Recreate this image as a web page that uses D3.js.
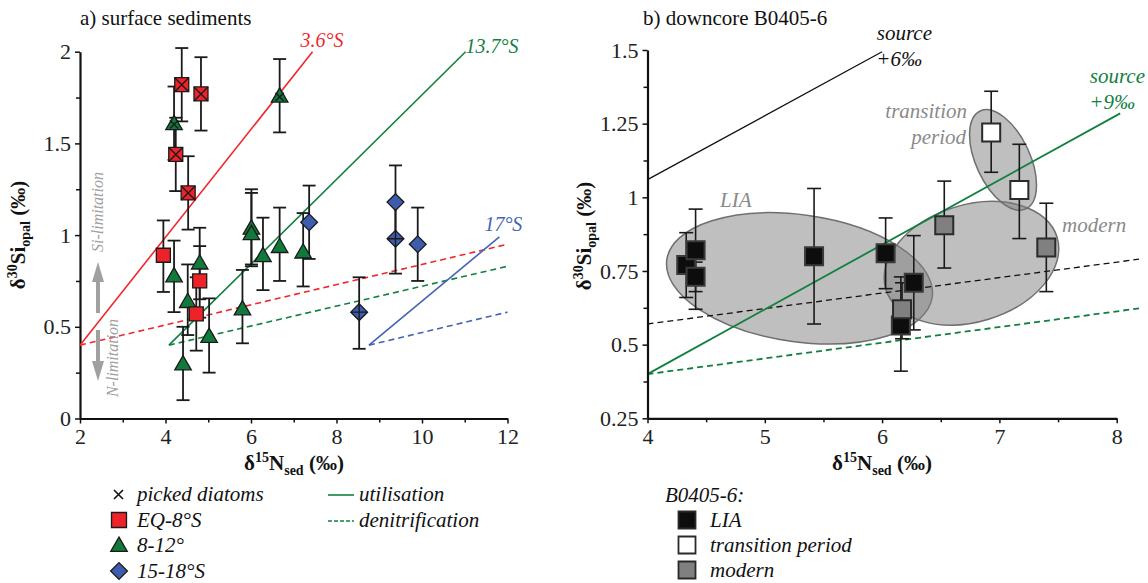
<html>
<head>
<title>d30Si vs d15N</title>
<script src="https://d3js.org/d3.v7.min.js"></script>
<style>
  body { margin: 0; background: #fff; }
  svg, svg text { font-family: "Liberation Serif", "Times New Roman", Tinos, "DejaVu Serif", serif !important; }
</style>
</head>
<body>
<script>
// ---- panel a) surface sediments ----
var eqSites = [
  {x: 4.38, y: 1.82, lo: 1.62, hi: 2.02, picked: true},
  {x: 4.83, y: 1.77, lo: 1.57, hi: 1.97, picked: true},
  {x: 4.24, y: 1.44, lo: 1.24, hi: 1.64, picked: true},
  {x: 4.53, y: 1.23, lo: 1.03, hi: 1.43, picked: true},
  {x: 3.95, y: 0.89, lo: 0.69, hi: 1.08, picked: false},
  {x: 4.80, y: 0.75, lo: 0.55, hi: 0.94, picked: false},
  {x: 4.72, y: 0.57, lo: 0.37, hi: 0.77, picked: false}
];
var midSites = [
  {x: 4.20, y: 1.61, lo: 1.41, hi: 1.81, picked: true},
  {x: 6.67, y: 1.76, lo: 1.56, hi: 1.96, picked: true},
  {x: 6.01, y: 1.04, lo: 0.84, hi: 1.25, picked: false},
  {x: 6.01, y: 1.01, lo: 0.83, hi: 1.23, picked: false},
  {x: 4.20, y: 0.78, lo: 0.58, hi: 0.97, picked: false},
  {x: 4.80, y: 0.85, lo: 0.65, hi: 1.04, picked: false},
  {x: 4.52, y: 0.64, lo: 0.455, hi: 0.84, picked: false},
  {x: 4.41, y: 0.30, lo: 0.10, hi: 0.50, picked: false},
  {x: 5.02, y: 0.45, lo: 0.25, hi: 0.655, picked: false},
  {x: 5.80, y: 0.60, lo: 0.41, hi: 0.81, picked: false},
  {x: 6.28, y: 0.89, lo: 0.70, hi: 1.095, picked: false},
  {x: 6.67, y: 0.94, lo: 0.75, hi: 1.15, picked: false},
  {x: 7.22, y: 0.91, lo: 0.72, hi: 1.12, picked: false}
];
var southSites = [
  {x: 7.36, y: 1.07, lo: 0.87, hi: 1.27, picked: false},
  {x: 9.38, y: 1.18, lo: 0.98, hi: 1.38, picked: false},
  {x: 9.38, y: 0.98, lo: 0.79, hi: 1.18, picked: true},
  {x: 9.90, y: 0.95, lo: 0.75, hi: 1.15, picked: false},
  {x: 8.53, y: 0.58, lo: 0.38, hi: 0.77, picked: true}
];
// model lines [x, y] endpoints
var modelLinesA = [
  {name: "3.6°S",  color: "#f0282d", dash: false, pts: [[2, 0.40], [7.44, 2.0]]},
  {name: "",       color: "#f0282d", dash: true,  pts: [[2, 0.40], [12, 0.95]]},
  {name: "13.7°S", color: "#118040", dash: false, pts: [[4.08, 0.40], [11.02, 2.0]]},
  {name: "",       color: "#118040", dash: true,  pts: [[4.08, 0.40], [12, 0.83]]},
  {name: "17°S",   color: "#4463b5", dash: false, pts: [[8.76, 0.40], [11.81, 0.99]]},
  {name: "",       color: "#4463b5", dash: true,  pts: [[8.76, 0.40], [12, 0.58]]}
];
var xTicksA = [2, 4, 6, 8, 10, 12];
var xMinorA = [3, 5, 7, 9, 11];
var yTicksA = [0, 0.5, 1, 1.5, 2];
var yMinorA = [0.25, 0.75, 1.25, 1.75];

// ---- panel b) downcore B0405-6 ----
var liaCore = [
  {x: 4.33, y: 0.77, lo: 0.66, hi: 0.88},
  {x: 4.41, y: 0.82, lo: 0.62, hi: 0.96},
  {x: 4.41, y: 0.73, lo: 0.68, hi: 0.78},
  {x: 5.42, y: 0.80, lo: 0.57, hi: 1.03},
  {x: 6.03, y: 0.81, lo: 0.69, hi: 0.93},
  {x: 6.27, y: 0.71, lo: 0.55, hi: 0.87},
  {x: 6.16, y: 0.565, lo: 0.41, hi: 0.73}
];
var transCore = [
  {x: 6.93, y: 1.22, lo: 1.085, hi: 1.36},
  {x: 7.17, y: 1.025, lo: 0.86, hi: 1.18}
];
var modernCore = [
  {x: 6.53, y: 0.905, lo: 0.76, hi: 1.055},
  {x: 7.40, y: 0.83, lo: 0.68, hi: 0.98},
  {x: 6.17, y: 0.62, lo: 0.52, hi: 0.71}
];
var modelLinesB = [
  {color: "#111", dash: false, pts: [[4, 1.06], [6.0, 1.494]]},
  {color: "#111", dash: true,  pts: [[4, 0.57], [8.19, 0.79]]},
  {color: "#118040", dash: false, pts: [[4, 0.40], [8.03, 1.285]]},
  {color: "#118040", dash: true,  pts: [[4, 0.40], [8.19, 0.623]]}
];
// group ellipses: centre in data units
var groupsB = [
  {name: "LIA", cx: 5.296, cy: 0.725, rx: 134, ry: 63.5, rot: 8},
  {name: "modern", cx: 6.762, cy: 0.776, rx: 89.5, ry: 58.5, rot: -17},
  {name: "transition", cx: 7.031, cy: 1.127, rx: 54, ry: 27, rot: 65}
];
var xTicksB = [4, 5, 6, 7, 8];
var xMinorB = [4.5, 5.5, 6.5, 7.5];
var yTicksB = [0.25, 0.5, 0.75, 1, 1.25, 1.5];
var yMinorB = [0.375, 0.625, 0.875, 1.125, 1.375];

var FONT = "'Liberation Serif', 'Times New Roman', Tinos, 'DejaVu Serif', serif";

var svg = d3.select("body").append("svg")
  .attr("width", 1148).attr("height", 583)
  .attr("font-family", FONT);

var xA = d3.scaleLinear().domain([2, 12]).range([80, 507.5]);
var yA = d3.scaleLinear().domain([0, 2]).range([418.5, 51.7]);
var xB = d3.scaleLinear().domain([4, 8]).range([647.5, 1116.7]);
var yB = d3.scaleLinear().domain([0.25, 1.5]).range([418.3, 50]);

function drawAxes(x, y, xMaj, xMin, yMaj, yMin) {
  var y0 = y.range()[0], x0 = x.range()[0];
  var g = svg.append("g");
  var gx = g.append("g").attr("transform", "translate(0," + y0 + ")")
    .call(d3.axisBottom(x).tickValues(xMaj).tickSize(5).tickSizeOuter(0).tickPadding(5).tickFormat(String));
  gx.append("g").call(d3.axisBottom(x).tickValues(xMin).tickSize(4).tickFormat(""))
    .select(".domain").remove();
  var gy = g.append("g").attr("transform", "translate(" + x0 + ",0)")
    .call(d3.axisLeft(y).tickValues(yMaj).tickSize(5).tickSizeOuter(0).tickPadding(4).tickFormat(String));
  gy.append("g").call(d3.axisLeft(y).tickValues(yMin).tickSize(4).tickFormat(""))
    .select(".domain").remove();
  g.selectAll("g").attr("font-family", FONT);
  g.selectAll(".domain").attr("stroke", "#111").attr("stroke-width", 2.2);
  g.selectAll(".tick line").attr("stroke", "#111").attr("stroke-width", 1.5);
  g.selectAll(".tick text").attr("font-size", 22).attr("fill", "#222");
}

function yLabel(cx, cy) {
  var t = svg.append("text").attr("transform", "translate(" + cx + "," + cy + ") rotate(-90)")
    .attr("text-anchor", "middle").attr("font-weight", "bold").attr("font-size", 21).attr("fill", "#111");
  t.append("tspan").text("δ");
  t.append("tspan").attr("font-size", 14).attr("dy", -8).text("30");
  t.append("tspan").attr("dy", 8).text("Si");
  t.append("tspan").attr("font-size", 14).attr("dy", 5).text("opal");
  t.append("tspan").attr("dy", -5).text(" (‰)");
}
function xLabel(cx, cy) {
  var t = svg.append("text").attr("x", cx).attr("y", cy)
    .attr("text-anchor", "middle").attr("font-weight", "bold").attr("font-size", 21).attr("fill", "#111");
  t.append("tspan").text("δ");
  t.append("tspan").attr("font-size", 14).attr("dy", -8).text("15");
  t.append("tspan").attr("dy", 8).text("N");
  t.append("tspan").attr("font-size", 14).attr("dy", 5).text("sed");
  t.append("tspan").attr("dy", -5).text(" (‰)");
}

function errorBars(g, data, x, y, cap, sw) {
  var e = g.selectAll(null).data(data).enter().append("g")
    .attr("stroke", "#1a1a1a").attr("stroke-width", sw);
  e.append("line").attr("x1", function(d){ return x(d.x); }).attr("x2", function(d){ return x(d.x); })
    .attr("y1", function(d){ return y(d.lo); }).attr("y2", function(d){ return y(d.hi); });
  e.append("line").attr("x1", function(d){ return x(d.x) - cap; }).attr("x2", function(d){ return x(d.x) + cap; })
    .attr("y1", function(d){ return y(d.lo); }).attr("y2", function(d){ return y(d.lo); });
  e.append("line").attr("x1", function(d){ return x(d.x) - cap; }).attr("x2", function(d){ return x(d.x) + cap; })
    .attr("y1", function(d){ return y(d.hi); }).attr("y2", function(d){ return y(d.hi); });
}

// marker shapes around (0,0)
var shapes = {
  square: function(s){ return "M" + (-s) + "," + (-s) + "H" + s + "V" + s + "H" + (-s) + "Z"; },
  triangle: function(s){ return "M0," + (-s * 1.05) + "L" + (s * 1.1) + "," + (s * 0.85) + "H" + (-s * 1.1) + "Z"; },
  diamond: function(s){ return "M0," + (-s * 1.2) + "L" + (s * 1.2) + ",0L0," + (s * 1.2) + "L" + (-s * 1.2) + ",0Z"; }
};

function markers(g, data, x, y, shape, size, fill, stroke, sw) {
  var m = g.selectAll(null).data(data).enter().append("g")
    .attr("transform", function(d){ return "translate(" + x(d.x) + "," + y(d.y) + ")"; });
  m.append("path").attr("d", shapes[shape](size)).attr("fill", fill)
    .attr("stroke", stroke).attr("stroke-width", sw);
  m.filter(function(d){ return d.picked; }).each(function(){
    var k = shape === "diamond" ? size * 1.1 : (shape === "triangle" ? size * 0.55 : size);
    var dy = shape === "triangle" ? size * 0.15 : 0;
    var p = shape === "diamond"
      ? "M0," + (-k) + "V" + k + "M" + (-k) + ",0H" + k
      : "M" + (-k) + "," + (dy - k) + "L" + k + "," + (dy + k) + "M" + k + "," + (dy - k) + "L" + (-k) + "," + (dy + k);
    d3.select(this).append("path").attr("d", p).attr("stroke", "#1a1a1a").attr("stroke-width", 1.4).attr("fill", "none");
  });
}

var line = function(x, y) { return d3.line().x(function(p){ return x(p[0]); }).y(function(p){ return y(p[1]); }); };

// ================= panel a =================
svg.append("text").attr("x", 80).attr("y", 25).attr("font-size", 21).attr("fill", "#111")
  .text("a) surface sediments");
drawAxes(xA, yA, xTicksA, xMinorA, yTicksA, yMinorA);
yLabel(25, 235);
xLabel(294, 470);

var gA = svg.append("g");
gA.selectAll(null).data(modelLinesA).enter().append("path")
  .attr("d", function(d){ return line(xA, yA)(d.pts); })
  .attr("fill", "none").attr("stroke", function(d){ return d.color; }).attr("stroke-width", 1.6)
  .attr("stroke-dasharray", function(d){ return d.dash ? "6,4" : null; });
gA.selectAll(null).data(modelLinesA.filter(function(d){ return d.name; })).enter().append("text")
  .attr("x", function(d){ return xA(d.pts[1][0]) + (d.name === "17°S" ? -15 : 0); })
  .attr("y", function(d){ return yA(d.pts[1][1]) - (d.name === "17°S" ? 6 : -1); })
  .attr("font-size", 20).attr("font-style", "italic").attr("fill", function(d){ return d.color; })
  .attr("dx", function(d){ return d.name === "3.6°S" ? -12 : 0; })
  .attr("dy", function(d){ return d.name === "3.6°S" ? -6 : 0; })
  .text(function(d){ return d.name; });

// limitation arrows
var gray = "#a0a0a0";
gA.append("path").attr("d", "M98,313V278").attr("stroke", gray).attr("stroke-width", 4);
gA.append("path").attr("d", "M98,262L104,282H92Z").attr("fill", gray);
gA.append("path").attr("d", "M98,330V365").attr("stroke", gray).attr("stroke-width", 4);
gA.append("path").attr("d", "M98,381L104,361H92Z").attr("fill", gray);
gA.append("text").attr("transform", "translate(103,212) rotate(-90)").attr("text-anchor", "middle")
  .attr("font-size", 16).attr("font-style", "italic").attr("fill", gray).text("Si-limitation");
gA.append("text").attr("transform", "translate(118,358) rotate(-90)").attr("text-anchor", "middle")
  .attr("font-size", 16).attr("font-style", "italic").attr("fill", gray).text("N-limitation");

errorBars(gA, eqSites.concat(midSites, southSites), xA, yA, 6.5, 1.8);
markers(gA, midSites, xA, yA, "triangle", 7.5, "#0f7a3c", "#1a1a1a", 1.3);
markers(gA, eqSites, xA, yA, "square", 7, "#ee2229", "#1a1a1a", 1.3);
markers(gA, southSites, xA, yA, "diamond", 7, "#3e5cad", "#1a1a1a", 1.3);

// legend a
var legA = svg.append("g");
legA.append("path").attr("d", "M114,490L123,499M123,490L114,499").attr("stroke", "#111").attr("stroke-width", 1.6);
legA.append("path").attr("transform", "translate(119,520)").attr("d", shapes.square(7.5))
  .attr("fill", "#ee2229").attr("stroke", "#1a1a1a").attr("stroke-width", 1.3);
legA.append("path").attr("transform", "translate(119,545)").attr("d", shapes.triangle(7.5))
  .attr("fill", "#0f7a3c").attr("stroke", "#1a1a1a").attr("stroke-width", 1.3);
legA.append("path").attr("transform", "translate(119,571)").attr("d", shapes.diamond(7))
  .attr("fill", "#3e5cad").attr("stroke", "#1a1a1a").attr("stroke-width", 1.3);
var legAText = ["picked diatoms", "EQ-8°S", "8-12°", "15-18°S"];
legA.selectAll(null).data(legAText).enter().append("text")
  .attr("x", 137).attr("y", function(d, i){ return 501 + i * 25.5; })
  .attr("font-size", 21).attr("font-style", "italic").attr("fill", "#111").text(function(d){ return d; });
legA.append("line").attr("x1", 328).attr("x2", 354).attr("y1", 495).attr("y2", 495)
  .attr("stroke", "#118040").attr("stroke-width", 1.6);
legA.append("line").attr("x1", 328).attr("x2", 354).attr("y1", 521).attr("y2", 521)
  .attr("stroke", "#118040").attr("stroke-width", 1.6).attr("stroke-dasharray", "4,2");
legA.append("text").attr("x", 359).attr("y", 501).attr("font-size", 21).attr("font-style", "italic")
  .attr("fill", "#111").text("utilisation");
legA.append("text").attr("x", 359).attr("y", 527).attr("font-size", 21).attr("font-style", "italic")
  .attr("fill", "#111").text("denitrification");

// ================= panel b =================
svg.append("text").attr("x", 643).attr("y", 25).attr("font-size", 21).attr("fill", "#111")
  .text("b) downcore B0405-6");

var gB = svg.append("g");
gB.selectAll(null).data(groupsB).enter().append("ellipse")
  .attr("transform", function(d){ return "translate(" + xB(d.cx) + "," + yB(d.cy) + ") rotate(" + d.rot + ")"; })
  .attr("rx", function(d){ return d.rx; }).attr("ry", function(d){ return d.ry; })
  .attr("fill", "#7f7f7f").attr("fill-opacity", 0.5)
  .attr("stroke", "#6f6f6f").attr("stroke-width", 1.5);

gB.selectAll(null).data(modelLinesB).enter().append("path")
  .attr("d", function(d){ return line(xB, yB)(d.pts); })
  .attr("fill", "none").attr("stroke", function(d){ return d.color; })
  .attr("stroke-width", function(d){ return d.color === "#111" ? 1.3 : 1.8; })
  .attr("stroke-dasharray", function(d){ return d.dash ? "6,4" : null; });

drawAxes(xB, yB, xTicksB, xMinorB, yTicksB, yMinorB);
yLabel(591, 236);
xLabel(882, 470);

// annotations
var ann = [
  {t: "source", x: 932, y: 40, c: "#111", a: "end"},
  {t: "+6‰", x: 922, y: 66, c: "#111", a: "end"},
  {t: "source", x: 1145, y: 83, c: "#118040", a: "end"},
  {t: "+9‰", x: 1135, y: 109, c: "#118040", a: "end"},
  {t: "LIA", x: 720, y: 207, c: "#8a8a8a", a: "start"},
  {t: "transition", x: 967, y: 118, c: "#8a8a8a", a: "end"},
  {t: "period", x: 966, y: 144, c: "#8a8a8a", a: "end"},
  {t: "modern", x: 1062, y: 232, c: "#8a8a8a", a: "start"}
];
gB.selectAll(null).data(ann).enter().append("text")
  .attr("x", function(d){ return d.x; }).attr("y", function(d){ return d.y; })
  .attr("text-anchor", function(d){ return d.a; })
  .attr("font-size", 21).attr("font-style", "italic").attr("fill", function(d){ return d.c; })
  .text(function(d){ return d.t; });

errorBars(gB, liaCore.concat(modernCore, transCore), xB, yB, 7, 1.6);
markers(gB, liaCore, xB, yB, "square", 9, "#0d0d0d", "#3a3a3a", 2);
markers(gB, modernCore, xB, yB, "square", 9, "#808080", "#2a2a2a", 2);
markers(gB, transCore, xB, yB, "square", 9, "#ffffff", "#2a2a2a", 2);

// legend b
var legB = svg.append("g");
legB.append("text").attr("x", 665).attr("y", 502).attr("font-size", 21).attr("font-style", "italic")
  .attr("fill", "#111").text("B0405-6:");
var legBItems = [{t: "LIA", f: "#0d0d0d"}, {t: "transition period", f: "#ffffff"}, {t: "modern", f: "#808080"}];
var lb = legB.selectAll(null).data(legBItems).enter().append("g")
  .attr("transform", function(d, i){ return "translate(0," + (520 + i * 25) + ")"; });
lb.append("path").attr("transform", "translate(687,0)").attr("d", shapes.square(8.5))
  .attr("fill", function(d){ return d.f; }).attr("stroke", "#2a2a2a").attr("stroke-width", 1.8);
lb.append("text").attr("x", 710).attr("y", 7).attr("font-size", 21).attr("font-style", "italic")
  .attr("fill", "#111").text(function(d){ return d.t; });
</script>
</body>
</html>
